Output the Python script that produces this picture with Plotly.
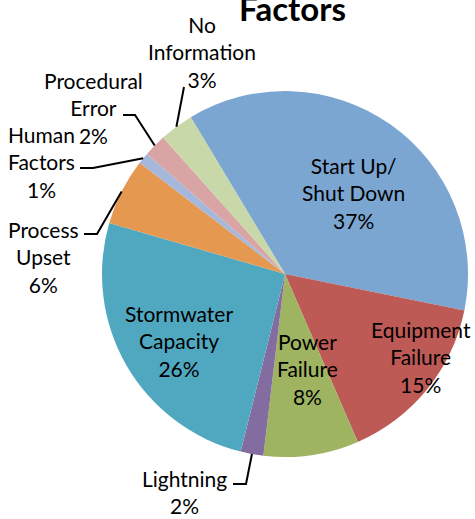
import math
import plotly.graph_objects as go

W, H = 475, 519

# ---- data ----
categories = ["Start Up/<br>Shut Down", "Equipment<br>Failure", "Power<br>Failure", "Lightning",
              "Stormwater<br>Capacity", "Process<br>Upset", "Human<br>Factors", "Procedural<br>Error",
              "No<br>Information"]
values = [36.8, 15.3, 8.4, 2.0, 25.6, 5.9, 1.0, 2.0, 3.0]
colors = ["#7BA6D1", "#BE5A55", "#9EB460", "#826CA0", "#50A8C0", "#E49850", "#A5B8DC", "#D9A5A4", "#C8D8A8"]
title_text = "Factors"

# ---- geometry (pixels) ----
CX, CY, R = 285, 274, 183
ROT = -31


def px(x):
    return x / W


def py(y):
    return 1 - y / H


fig = go.Figure(go.Pie(
    labels=[c.replace("<br>", " ") for c in categories],
    values=values,
    sort=False,
    direction="clockwise",
    rotation=ROT,
    marker=dict(colors=colors, line=dict(width=0)),
    textinfo="none",
    hoverinfo="label+percent",
    domain=dict(x=[px(CX - R), px(CX + R)], y=[py(CY + R), py(CY - R)]),
    showlegend=False,
))

total = sum(values)
pcts = [int(math.floor(100 * v / total + 0.5)) for v in values]

# label placement (pixel centres) and leader-line routes (elbow, end) for outside labels
label_pos = {
    0: (353, 193),
    1: (421, 357),
    2: (307, 369),
    3: (184, 492),
    4: (179, 341),
    5: (43, 257),
    6: (41, 162),
    7: (93, 108),
    8: (202, 52),
}
leaders = {
    3: [(246, 484), (233, 484)],
    5: [(97, 234), (84, 234)],
    6: [(93, 168), (80, 168)],
    7: [(135, 115), (123, 115)],
    8: [(184, 87)],
}

FONT = "Lato, Calibri, Carlito, sans-serif"
ann = []
for i, cat in enumerate(categories):
    x, y = label_pos[i]
    if i == 7:
        txt = "Procedural<br>Error<br>%d%%" % pcts[i]
    else:
        txt = "%s<br>%d%%" % (cat, pcts[i])
    ann.append(dict(x=px(x), y=py(y), xref="paper", yref="paper", text=txt, showarrow=False,
                    xanchor="center", yanchor="middle",
                    font=dict(family=FONT, size=21, color="black")))

ann.append(dict(x=px(292), y=py(30), xref="paper", yref="paper", text="<b>%s</b>" % title_text,
                showarrow=False, xanchor="center", yanchor="bottom",
                font=dict(family=FONT, size=33, color="black")))

shapes = []
cum = 0
for i, v in enumerate(values):
    mid = (cum + v / 2) / total
    cum += v
    if i not in leaders:
        continue
    th = math.radians(ROT + 360 * mid)
    sx, sy = CX + R * math.sin(th), CY - R * math.cos(th)
    pts = [(sx, sy)] + leaders[i]
    path = "M %f %f " % (px(pts[0][0]), py(pts[0][1])) + " ".join(
        "L %f %f" % (px(a), py(b)) for a, b in pts[1:])
    shapes.append(dict(type="path", path=path, xref="paper", yref="paper",
                       line=dict(color="black", width=2)))

fig.update_layout(
    width=W, height=H,
    margin=dict(l=0, r=0, t=0, b=0),
    paper_bgcolor="white", plot_bgcolor="white",
    annotations=ann, shapes=shapes,
)

fig.write_html("out.html", config={"displayModeBar": False},
               post_script="document.body.style.margin='0';document.body.style.overflow='hidden';")
